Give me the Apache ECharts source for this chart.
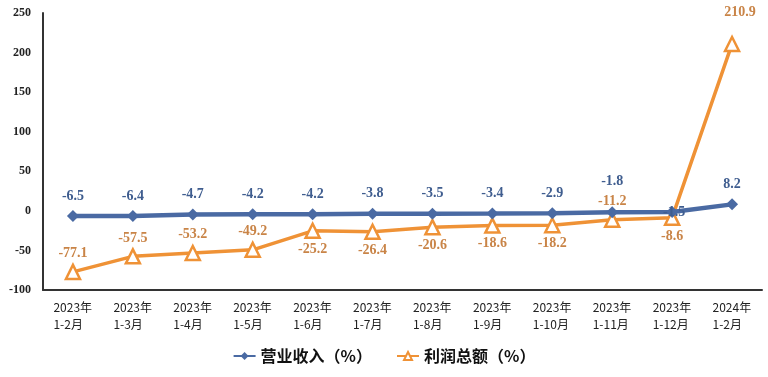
<!DOCTYPE html>
<html>
<head>
<meta charset="utf-8">
<script src="https://cdn.jsdelivr.net/npm/echarts@6/dist/echarts.min.js"></script>
<style>
  html, body { margin: 0; padding: 0; background: #fff; }
  #chart { width: 768px; height: 377px; }
</style>
</head>
<body>
<div id="chart"></div>
<script>
// data
const categories = [
  '2023年\n1-2月', '2023年\n1-3月', '2023年\n1-4月', '2023年\n1-5月',
  '2023年\n1-6月', '2023年\n1-7月', '2023年\n1-8月', '2023年\n1-9月',
  '2023年\n1-10月', '2023年\n1-11月', '2023年\n1-12月', '2024年\n1-2月'
];
const revenue = [-6.5, -6.4, -4.7, -4.2, -4.2, -3.8, -3.5, -3.4, -2.9, -1.8, -1.5, 8.2];
const profit = [-77.1, -57.5, -53.2, -49.2, -25.2, -26.4, -20.6, -18.6, -18.2, -11.2, -8.6, 210.9];
// which profit labels sit under the point
const profitBelow = [4, 5, 6, 7, 8, 10];

const BLUE = '#4a6aa3';
const ORANGE = '#ef9236';
const serif = '"Liberation Serif", "DejaVu Serif", serif';

const chart = echarts.init(document.getElementById('chart'));

function revenueLabel(i) {
  if (i === 10) return { position: 'inside', offset: [2, 0] };
  if (i === 9) return { distance: 18 };
  return undefined;
}

function profitLabel(i) {
  if (i === 11) return { position: 'top', distance: 16, offset: [8, 0] };
  if (profitBelow.includes(i)) return { position: 'bottom' };
  return undefined;
}

const option = {
  backgroundColor: '#fff',
  animation: false,
  grid: { left: 43, right: 6, top: 13, bottom: 87 },
  legend: {
    bottom: 8,
    left: 'center',
    itemGap: 24,
    itemWidth: 22,
    itemHeight: 10,
    textStyle: { fontSize: 16, fontWeight: 'bold', color: '#111', fontFamily: '"Noto Sans CJK SC", sans-serif' },
    data: ['营业收入（%）', '利润总额（%）']
  },
  xAxis: {
    type: 'category',
    data: categories,
    boundaryGap: true,
    axisLine: { onZero: false, lineStyle: { color: '#333', width: 2 } },
    axisTick: { show: false },
    axisLabel: {
      interval: 0,
      margin: 9,
      formatter: (val) => val.split('\n').map(s => '{a|' + s + '}').join('\n'),
      rich: {
        a: {
          width: 39,
          align: 'left',
          color: '#222',
          fontSize: 12,
          lineHeight: 17,
          fontFamily: '"Noto Sans CJK SC", sans-serif'
        }
      }
    }
  },
  yAxis: {
    type: 'value',
    min: -100,
    max: 250,
    interval: 50,
    axisLine: { show: true, lineStyle: { color: '#333', width: 2 } },
    axisTick: { show: false },
    splitLine: { show: false },
    axisLabel: { color: '#222', fontSize: 12, fontWeight: 'bold', fontFamily: serif, margin: 12 }
  },
  series: [
    {
      name: '营业收入（%）',
      type: 'line',
      data: revenue.map((v, i) => ({ value: v, label: revenueLabel(i) })),
      symbol: 'diamond',
      symbolSize: 12,
      lineStyle: { color: BLUE, width: 4.5 },
      itemStyle: { color: BLUE },
      z: 3,
      label: {
        show: true,
        position: 'top',
        distance: 7,
        color: '#3f5d8f',
        fontSize: 14,
        fontWeight: 'bold',
        fontFamily: serif
      }
    },
    {
      name: '利润总额（%）',
      type: 'line',
      data: profit.map((v, i) => ({ value: v, label: profitLabel(i) })),
      symbol: 'triangle',
      symbolSize: 14,
      showAllSymbol: true,
      lineStyle: { color: ORANGE, width: 3.5 },
      itemStyle: { color: '#fff', borderColor: ORANGE, borderWidth: 2.5 },
      z: 2,
      label: {
        show: true,
        position: 'top',
        distance: 3,
        color: '#c98447',
        fontSize: 14,
        fontWeight: 'bold',
        fontFamily: serif
      }
    }
  ]
};

chart.setOption(option);
</script>
</body>
</html>
